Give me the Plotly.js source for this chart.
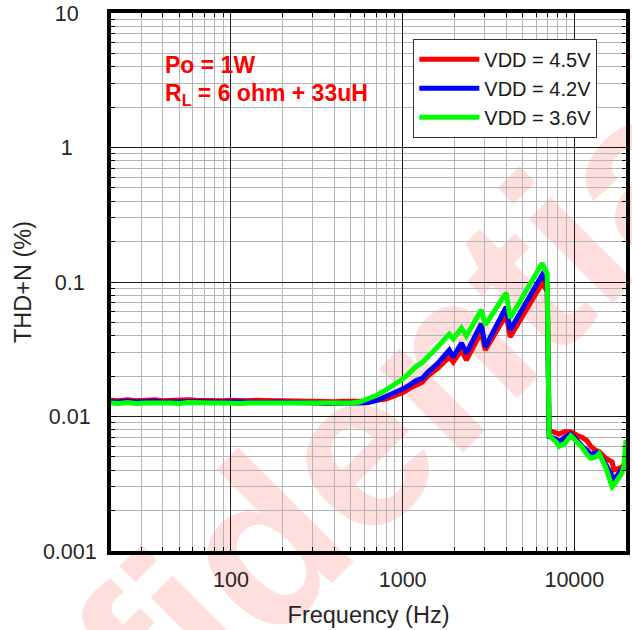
<!DOCTYPE html>
<html>
<head>
<meta charset="utf-8">
<script src="https://cdn.plot.ly/plotly-3.0.1.min.js"></script>
<style>
  html, body { margin: 0; padding: 0; background: #ffffff; }
  #chart { width: 632px; height: 630px; }
</style>
</head>
<body>
<div id="chart"></div>
<script>
// Frequency points (Hz), shared by all three curves
const freq = [20,22,25,28,32,36,40,45,50,56,
  63,71,80,90,100,112,125,140,160,180,
  200,225,250,280,315,355,400,450,500,560,
  630,700,800,900,1000,1100,1200,1300,1400,1600,
  1870,1970,2200,2350,2870,3030,4010,4230,6500,6950,
  7130,7800,8150,8800,9540,10660,11100,11870,12470,13330,
  13930,15240,15930,16590,17030,18200,18960,19460,20000];

// THD+N (%) for VDD = 4.5V
const thd45 = [0.0132,0.0131,0.0133,0.0131,0.0132,0.0133,0.0131,0.0132,0.0131,0.0133,
  0.0132,0.0131,0.0132,0.0131,0.0132,0.0131,0.0131,0.0132,0.0130,0.0131,
  0.0131,0.0130,0.0131,0.0130,0.0130,0.0129,0.0129,0.0130,0.0129,0.0130,
  0.0130,0.0131,0.0135,0.0143,0.0150,0.0162,0.0172,0.0180,0.0200,0.0228,
  0.0277,0.0254,0.0312,0.0263,0.0425,0.0312,0.0569,0.0390,0.0984,0.0850,
  0.0079,0.0075,0.0074,0.0077,0.0077,0.0071,0.0070,0.0066,0.0060,0.0056,
  0.0055,0.0049,0.0047,0.0046,0.0040,0.0041,0.0042,0.0044,0.0046];

// THD+N (%) for VDD = 4.2V
const thd42 = [0.0129,0.0128,0.0130,0.0128,0.0129,0.0130,0.0128,0.0129,0.0128,0.0129,
  0.0129,0.0128,0.0129,0.0128,0.0129,0.0128,0.0128,0.0128,0.0127,0.0128,
  0.0128,0.0127,0.0127,0.0126,0.0126,0.0125,0.0126,0.0126,0.0126,0.0126,
  0.0127,0.0131,0.0140,0.0150,0.0160,0.0172,0.0185,0.0192,0.0213,0.0248,
  0.0312,0.0277,0.0352,0.0296,0.0488,0.0329,0.0652,0.0440,0.1130,0.0980,
  0.0071,0.0068,0.0065,0.0070,0.0074,0.0064,0.0060,0.0056,0.0052,0.0054,
  0.0053,0.0044,0.0039,0.0036,0.0034,0.0038,0.0041,0.0042,0.0050];

// THD+N (%) for VDD = 3.6V
const thd36 = [0.0126,0.0125,0.0127,0.0125,0.0126,0.0127,0.0126,0.0126,0.0125,0.0127,
  0.0126,0.0125,0.0126,0.0126,0.0125,0.0125,0.0126,0.0126,0.0125,0.0126,
  0.0126,0.0125,0.0126,0.0124,0.0124,0.0124,0.0125,0.0125,0.0126,0.0128,
  0.0135,0.0143,0.0158,0.0172,0.0190,0.0212,0.0236,0.0252,0.0275,0.0330,
  0.0410,0.0377,0.0455,0.0397,0.0619,0.0480,0.0830,0.0540,0.1380,0.1150,
  0.0072,0.0065,0.0060,0.0063,0.0072,0.0062,0.0059,0.0052,0.0049,0.0050,
  0.0053,0.0042,0.0036,0.0030,0.0031,0.0035,0.0038,0.0043,0.0067];

const seriesNames = ['VDD = 4.5V', 'VDD = 4.2V', 'VDD = 3.6V'];
const seriesColors = ['#ff0000', '#0000ff', '#00ff00'];

const xTickVals = [100, 1000, 10000];
const xTickText = ['100', '1000', '10000'];
const yTickVals = [0.001, 0.01, 0.1, 1, 10];
// trailing no-break spaces roughly centre the labels as in the original
const NB = '\u00A0';
const yTickText = ['0.001', '0.01' + NB, '0.1' + NB + NB, '1' + NB + NB + NB + NB, '10' + NB + NB + NB];

const FONT = 'Liberation Sans, Arial, Helvetica, sans-serif';

const traces = [thd45, thd42, thd36].map((vals, i) => ({
  type: 'scatter',
  mode: 'lines',
  x: freq,
  y: vals,
  name: seriesNames[i],
  line: { color: seriesColors[i], width: 5 }
}));

const axisCommon = {
  type: 'log',
  showgrid: true,
  gridcolor: '#1a1a1a',
  gridwidth: 1,
  zeroline: false,
  showline: true,
  linecolor: '#000000',
  linewidth: 4,
  mirror: 'ticks',
  ticks: 'inside',
  ticklen: 5,
  tickcolor: '#000000',
  tickfont: { family: FONT, size: 21.5, color: '#262626' },
  tickmode: 'array',
  minor: {
    dtick: 'D1',
    showgrid: true,
    gridcolor: '#b4b4b4',
    gridwidth: 1,
    ticks: 'inside',
    ticklen: 4,
    tickcolor: '#000000'
  }
};

const layout = {
  width: 632,
  height: 630,
  margin: { l: 111, r: 6, t: 13, b: 79 },
  paper_bgcolor: '#ffffff',
  plot_bgcolor: 'rgba(0,0,0,0)',
  font: { family: FONT, color: '#262626' },
  showlegend: true,
  legend: {
    x: 0.587, y: 0.952, xanchor: 'left', yanchor: 'top',
    bgcolor: '#ffffff', bordercolor: '#333333', borderwidth: 1,
    font: { family: FONT, size: 20, color: '#1a1a1a' },
    itemwidth: 60,
    tracegroupgap: 0
  },
  xaxis: Object.assign({}, axisCommon, {
    range: [Math.log10(20), Math.log10(20000)],
    tickvals: xTickVals,
    ticktext: xTickText,
    ticklabelstandoff: 6,
    title: { text: 'Frequency (Hz)', font: { family: FONT, size: 23.5, color: '#262626' }, standoff: 17 }
  }),
  yaxis: Object.assign({}, axisCommon, {
    range: [-3, 1],
    tickvals: yTickVals,
    ticktext: yTickText,
    ticklabelstandoff: 6,
    title: { text: 'THD+N (%)', font: { family: FONT, size: 23.5, color: '#262626' }, standoff: 6 }
  }),
  annotations: [
    { xref: 'paper', yref: 'paper', x: 0.1, y: 0.903, xanchor: 'left', yanchor: 'middle',
      text: '<b>Po = 1W</b>', showarrow: false,
      font: { family: FONT, size: 23, color: '#ff0000' } },
    { xref: 'paper', yref: 'paper', x: 0.1, y: 0.848, xanchor: 'left', yanchor: 'middle',
      text: '<b>R<sub>L</sub> = 6 ohm + 33uH</b>', showarrow: false,
      font: { family: FONT, size: 23, color: '#ff0000' } }
  ],
  shapes: [
    { type: 'rect', xref: 'paper', yref: 'paper', layer: 'below',
      x0: 0.26, x1: 0.28, y0: 0.033, y1: 0.063,
      line: { width: 0 }, fillcolor: 'rgba(0,0,0,0)',
      label: { text: '<b>Confidential</b>', textangle: -45, textposition: 'middle center',
        font: { family: FONT, size: 224, color: '#ffdede' } } }
  ]
};

Plotly.newPlot('chart', traces, layout, { displayModeBar: false, staticPlot: true });
</script>
</body>
</html>
